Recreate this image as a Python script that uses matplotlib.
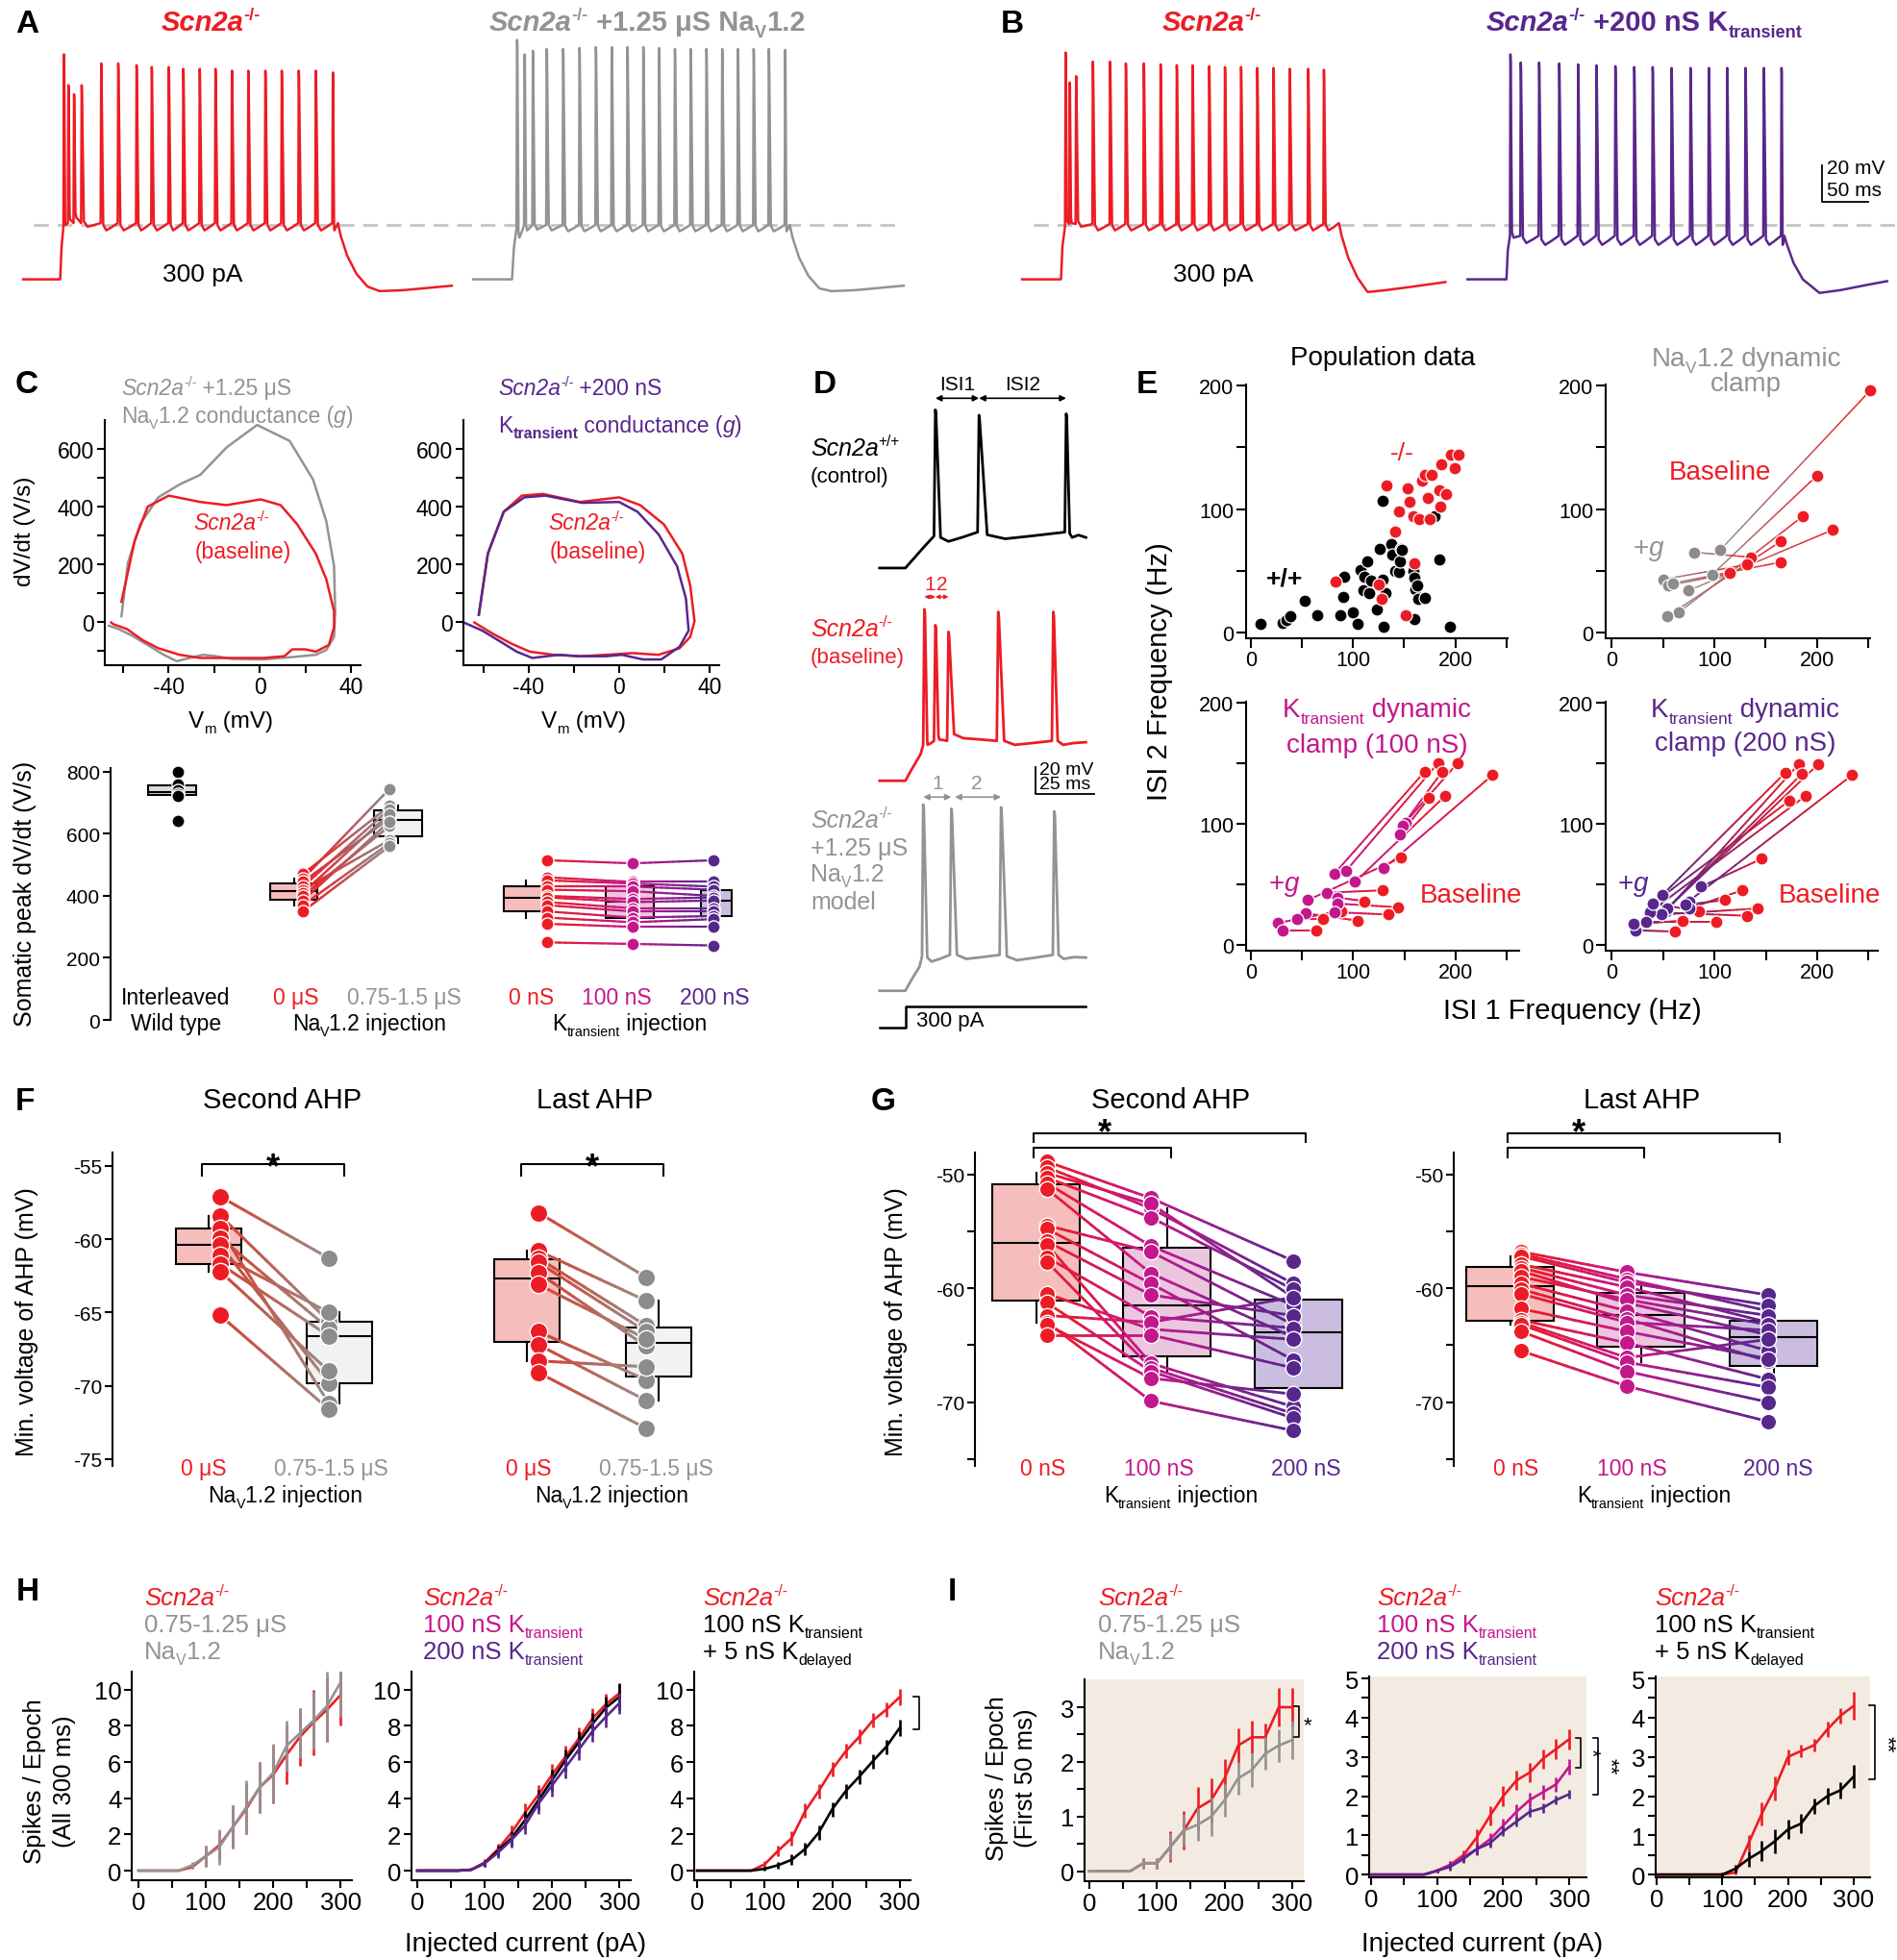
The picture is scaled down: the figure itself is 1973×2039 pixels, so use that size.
import numpy as np
import matplotlib
matplotlib.use("Agg")
import matplotlib.pyplot as plt
import matplotlib.transforms as mtrans
from matplotlib.collections import LineCollection
from matplotlib.colors import to_rgb
from matplotlib.lines import Line2D

# ======================= DATA =======================
# ---- A / B traces: spike times (ms after step onset), peaks (mV), AHP troughs (mV)
RA_t = [4.1, 8.9, 15.0, 23.2, 44.3, 62.7, 82.5, 98.9, 117.3, 133.0, 150.7, 167.7, 185.5, 203.2, 221.6, 239.3, 257.7, 276.1, 294.5]
RA_pk = [44, 27, 22, 27, 39, 39, 38, 37, 37, 36, 36, 36, 35, 35, 35, 35, 35, 35, 34]
RA_ahp = [-50, -47, -46, -51, -53, -53, -53, -53, -53, -53, -53, -53, -53, -53, -53, -53, -53, -53, -53]
RA_thr = -49
RA_rise_dt = [0, 1.5, 3.5]
RA_rise_v = [-80, -62, -51]
RA_tail_dt = [0, 3, 10, 20, 32, 45, 70, 123]
RA_tail_v = [-49, -56, -67, -77, -84, -86.5, -86, -83.5]

GA_t = [5.5, 13.6, 22.5, 37.5, 55.2, 72.9, 90.6, 107.7, 124.7, 141.8, 158.8, 175.9, 193, 210, 227, 244, 261, 277.4, 295]
GA_pk = [52, 44, 46, 47, 47, 47.5, 48, 48, 48, 48, 47.5, 47, 47, 47, 47, 47, 47, 47, 46.5]
GA_ahp = [-57, -53, -52.5, -53, -53.5, -53.5, -53.5, -53.5, -53.5, -53.5, -53.5, -53.5, -53.5, -53.5, -53.5, -53.5, -53.5, -53.5, -53.5]
GA_thr = -50
GA_rise_dt = [0, 2, 4.8]
GA_rise_v = [-80, -63, -52]
GA_tail_dt = [0, 3, 10, 20, 32, 45, 70, 123]
GA_tail_v = [-50, -57, -68, -78, -85, -86.5, -86, -83.5]

RB_t = [5, 9.4, 16.3, 34.4, 53, 70, 89.4, 107.5, 125, 142, 160, 177, 194.4, 211.9, 229.4, 246.9, 266.9, 283.8]
RB_pk = [45, 28.5, 32, 40, 40, 39, 39, 38.5, 38, 38, 37.5, 37, 37, 36.5, 36.5, 36, 36, 35.5]
RB_ahp = [-48, -49, -51, -53, -53, -53, -53, -53, -53, -53, -53, -53, -53, -53, -53, -53, -53, -53]
RB_thr = -49.5
RB_rise_dt = [0, 1.5, 4.3]
RB_rise_v = [-80, -62, -51]
RB_tail_dt = [0, 3, 10, 20, 31, 50, 80, 115]
RB_tail_v = [-49, -56, -68, -79, -87, -86, -84, -81.5]

PB_t = [4.3, 15.5, 35.3, 57, 77.4, 97.2, 117.6, 138, 157.9, 178.3, 198.7, 218.5, 238.3, 258.1, 277.9, 297]
PB_pk = [44, 39.5, 39.5, 39, 38.5, 38, 37.5, 37, 37, 36.5, 36.5, 36.5, 36.5, 36.5, 36.5, 36.5]
PB_ahp = [-57, -60, -61, -61, -61, -61, -61, -61, -61, -61, -61, -61, -61, -61, -61, -61]
PB_thr = -56
PB_rise_dt = [0, 1.5, 3.8]
PB_rise_v = [-80, -64, -56]
PB_tail_dt = [0, 3, 10, 20, 38, 60, 90, 111]
PB_tail_v = [-56, -61, -71, -80, -87.5, -86, -83, -81]

# ---- D traces
DK_t = [12.8, 31.4, 68.6]; DK_pk = [39, 35, 36]; DK_ahp = [-60, -58, -57]; DK_thr = -53
DK_rise_dt = [0, 4, 8, 12.2]; DK_rise_v = [-80, -72, -64, -56]
DR_t = [8.1, 12.8, 18.4, 39.6, 63.1]; DR_pk = [49, 37, 32, 47, 47]; DR_ahp = [-53, -49, -48, -53, -53]; DR_thr = -50
DR_rise_dt = [0, 2.5, 6.5, 7.6]; DR_rise_v = [-80, -72, -60, -53]
DG_t = [7.6, 19.6, 40.8, 63.5]; DG_pk = [60, 57, 58, 55]; DG_ahp = [-58, -56, -57, -56]; DG_thr = -53
DG_rise_dt = [0, 2.5, 6, 7.1]; DG_rise_v = [-80, -72, -62, -54]
D_end_v = [-57, -51, -55]

# ---- C phase plots (Vm in mV, dV/dt in V/s)
PHL_red_v = [-60.5, -54.7, -49, -39.8, -26, -14.5, 0.5, 9.2, 16.5, 24.6, 29.2, 32.6, 32.6, 30.3, 24.6, 20, 14.3, 10.8, 1.6, -12.2, -26, -35, -44.4, -51.3, -58, -64, -65]
PHL_red_d = [70, 282, 400, 438, 416, 405, 425, 405, 338, 237, 148, 37, -19, -80, -103, -95, -95, -119, -125, -125, -125, -114, -91, -63, -25, -8, -2]
PHL_gry_v = [-60.5, -57.7, -52.4, -44.4, -35, -26, -14.5, -1.1, 13.1, 23.4, 29.2, 32.6, 33.1, 32.6, 29.2, 24.6, 15.4, 1.6, -12.2, -19, -24.8, -30.6, -36.3, -42, -49, -56, -61.6, -66]
PHL_gry_d = [20, 204, 338, 432, 477, 510, 605, 683, 628, 494, 349, 193, 37, -52, -97, -114, -121, -130, -128, -119, -114, -125, -136, -114, -80, -47, -25, -13]
PHR_red_v = [-62, -58, -51, -43, -33.7, -17.4, 0, 9.3, 19.8, 27.9, 31.4, 33.3, 31.4, 26.7, 17.4, 5.8, -5.8, -17.4, -29, -39.5, -47.7, -55.8, -64]
PHR_red_d = [25, 237, 382, 438, 444, 416, 432, 405, 338, 237, 126, 3, -52, -91, -114, -108, -114, -119, -114, -103, -75, -41, -2]
PHR_pur_v = [-62, -58, -51, -41.9, -32.6, -16.3, 0, 8.1, 17.4, 25.6, 29.5, 30.7, 26.7, 18.6, 10.5, 1.2, -5.8, -17.4, -26.7, -38.4, -45.3, -52.3, -60.5, -68.6]
PHR_pur_d = [25, 237, 382, 432, 438, 413, 416, 382, 304, 193, 81, -30, -86, -130, -130, -114, -119, -119, -114, -125, -103, -69, -30, -2]

# ---- C bottom: somatic peak dV/dt (V/s)
CB_wt = [800, 760, 741, 730, 723, 642]
CB_na0 = [470, 455, 445, 430, 420, 410, 400, 385, 370, 350]
CB_na1 = [690, 745, 650, 680, 580, 665, 625, 640, 570, 560]
CB_k0 = [515, 460, 450, 430, 420, 400, 395, 380, 370, 350, 330, 310, 250]
CB_k100 = [505, 445, 440, 430, 415, 390, 380, 360, 350, 330, 315, 300, 245]
CB_k200 = [515, 445, 430, 420, 400, 395, 385, 360, 350, 335, 325, 300, 240]

# ---- E: ISI1 / ISI2 frequency (Hz)
E1_wt_x = [10, 31, 35, 39, 53, 65, 88, 91, 90, 100, 104, 107, 111, 114, 110, 116, 118, 123, 126, 129, 129, 130, 132, 137, 138, 141, 145, 147, 146, 159, 160, 161, 163, 164, 170, 180, 184, 195, 160, 148]
E1_wt_y = [7, 8, 10, 13, 26, 14, 14, 45, 29, 16, 7, 51, 45, 58, 34, 32, 42, 19, 68, 107, 43, 5, 32, 72, 63, 50, 49, 68, 58, 50, 44, 35, 38, 27, 28, 94, 59, 5, 11, 67]
E1_ko_x = [83, 125, 128, 133, 141, 145, 151, 153, 155, 159, 160, 165, 167, 170, 173, 175, 177, 184, 185, 186, 191, 196, 199, 203]
E1_ko_y = [41, 39, 27, 119, 82, 98, 14, 117, 106, 94, 56, 92, 123, 128, 109, 92, 128, 115, 102, 136, 112, 144, 133, 144]
E2_g_x = [106, 98, 75, 65, 54, 80, 50, 55, 60]
E2_g_y = [67, 47, 34, 16, 13, 65, 43, 38, 40]
E2_b_x = [252, 200, 215, 186, 165, 136, 132, 115, 165]
E2_b_y = [196, 127, 83, 94, 74, 61, 55, 48, 57]
E3_g_x = [82, 93, 151, 148, 102, 130, 146, 56, 74, 85, 85, 82, 54, 45, 26, 31]
E3_g_y = [59, 61, 101, 98, 52, 63, 91, 37, 43, 39, 34, 27, 26, 21, 18, 12]
E3_b_x = [170, 183, 202, 187, 190, 236, 174, 147, 129, 111, 144, 134, 104, 71, 88, 64]
E3_b_y = [143, 150, 150, 143, 123, 140, 121, 72, 45, 36, 31, 25, 20, 21, 28, 12]
E4_g_x = [49, 53, 54, 48, 40, 37, 75, 87, 75, 72, 48, 37, 33, 23, 21, 40]
E4_g_y = [41, 28, 30, 25, 34, 27, 36, 48, 30, 33, 25, 27, 19, 12, 17, 34]
E4_b_x = [169, 182, 185, 201, 173, 189, 234, 146, 127, 110, 142, 132, 102, 61, 69, 85]
E4_b_y = [142, 149, 141, 149, 119, 123, 140, 71, 45, 37, 30, 24, 19, 11, 20, 28]

# ---- F: min AHP voltage (mV), paired 0 uS -> 0.75-1.5 uS
F2_0 = [-57.1, -58.4, -59.3, -59.9, -60.4, -61.1, -61.7, -62.2, -65.2]
F2_1 = [-61.3, -65.6, -71.2, -66.1, -69.8, -65.0, -66.6, -69.0, -71.6]
FL_0 = [-58.2, -60.8, -61.3, -61.6, -62.3, -63.1, -66.3, -67.2, -68.3, -69.1]
FL_1 = [-62.6, -64.2, -65.9, -66.3, -67.3, -66.8, -69.6, -71.0, -68.7, -72.9]

# ---- G: min AHP voltage (mV), 0 -> 100 -> 200 nS
G2_0 = [-48.9, -49.4, -49.9, -50.3, -50.8, -51.3, -54.5, -54.8, -55.9, -56.2, -57.3, -57.7, -60.5, -61.3, -62.4, -63.0, -63.2, -64.1]
G2_1 = [-52.1, -53.0, -52.6, -53.8, -56.3, -58.7, -56.8, -59.6, -60.6, -66.6, -62.5, -67.0, -63.6, -67.3, -63.0, -69.9, -67.9, -64.1]
G2_2 = [-57.6, -59.6, -60.8, -60.1, -61.5, -64.3, -63.2, -66.3, -62.4, -70.4, -63.5, -71.0, -64.5, -71.4, -60.8, -72.5, -69.3, -67.0]
GL_0 = [-56.8, -57.0, -57.2, -57.9, -58.2, -58.5, -59.0, -59.6, -60.1, -60.5, -61.8, -62.8, -63.0, -63.2, -63.8, -65.5]
GL_1 = [-58.6, -59.2, -59.5, -59.9, -60.6, -61.3, -61.0, -62.0, -62.7, -63.0, -63.8, -64.8, -66.1, -66.5, -67.3, -68.6]
GL_2 = [-60.6, -62.0, -61.5, -63.0, -62.4, -64.1, -63.2, -65.5, -66.4, -63.7, -66.2, -68.0, -64.5, -68.7, -70.0, -71.7]

# ---- H / I: spikes per epoch vs injected current (pA)
CUR = [0, 20, 40, 60, 80, 100, 120, 140, 160, 180, 200, 220, 240, 260, 280, 300]
H1_red = [0, 0, 0, 0, 0.2, 0.8, 1.4, 2.4, 3.4, 4.6, 5.3, 6.4, 7.4, 8.2, 8.9, 9.7]
H1_red_e = [0, 0, 0, 0, 0.1, 0.6, 0.8, 1.2, 1.4, 1.4, 1.6, 1.6, 1.6, 1.8, 1.8, 1.7]
H1_gry = [0, 0, 0, 0, 0.3, 0.8, 1.3, 2.4, 3.5, 4.6, 5.4, 6.9, 7.6, 8.3, 9.1, 10.4]
H1_gry_e = [0, 0, 0, 0, 0.2, 0.6, 1.0, 1.2, 1.5, 1.4, 1.6, 1.4, 1.4, 1.6, 1.9, 1.9]
H2_red = [0, 0, 0, 0, 0.05, 0.45, 1.2, 2.1, 3.2, 4.2, 5.3, 6.3, 7.3, 8.4, 9.2, 9.8]
H2_red_e = [0, 0, 0, 0, 0, 0.2, 0.3, 0.4, 0.5, 0.55, 0.6, 0.6, 0.6, 0.6, 0.6, 0.5]
H2_blk = [0, 0, 0, 0, 0.05, 0.4, 1.1, 1.8, 2.8, 3.9, 5.0, 6.1, 7.1, 8.1, 9.0, 9.6]
H2_blk_e = [0, 0, 0, 0, 0, 0.2, 0.3, 0.4, 0.5, 0.55, 0.6, 0.6, 0.6, 0.6, 0.6, 0.75]
H2_pur = [0, 0, 0, 0, 0.05, 0.4, 1.0, 1.7, 2.5, 3.7, 4.7, 5.7, 6.7, 7.7, 8.5, 9.25]
H2_pur_e = [0, 0, 0, 0, 0, 0.2, 0.3, 0.4, 0.5, 0.55, 0.6, 0.6, 0.6, 0.6, 0.6, 0.6]
H3_red = [0, 0, 0, 0, 0, 0.35, 1.1, 1.8, 3.3, 4.4, 5.6, 6.6, 7.4, 8.3, 8.9, 9.6]
H3_red_e = [0, 0, 0, 0, 0, 0.2, 0.3, 0.4, 0.4, 0.4, 0.4, 0.4, 0.4, 0.4, 0.4, 0.45]
H3_blk = [0, 0, 0, 0, 0, 0.1, 0.3, 0.6, 1.2, 2.1, 3.4, 4.4, 5.2, 6.05, 6.85, 7.9]
H3_blk_e = [0, 0, 0, 0, 0, 0.1, 0.2, 0.3, 0.35, 0.4, 0.4, 0.4, 0.4, 0.4, 0.4, 0.45]
I1_red = [0, 0, 0, 0, 0.15, 0.15, 0.45, 0.75, 1.15, 1.3, 1.7, 2.3, 2.45, 2.45, 3.0, 3.0]
I1_red_e = [0, 0, 0, 0, 0.1, 0.1, 0.28, 0.35, 0.4, 0.4, 0.35, 0.32, 0.3, 0.25, 0.35, 0.35]
I1_gry = [0, 0, 0, 0, 0.15, 0.15, 0.45, 0.75, 0.85, 1.0, 1.3, 1.7, 1.85, 2.15, 2.3, 2.4]
I1_gry_e = [0, 0, 0, 0, 0.1, 0.1, 0.25, 0.3, 0.3, 0.35, 0.3, 0.3, 0.3, 0.3, 0.3, 0.35]
I2_red = [0, 0, 0, 0, 0, 0.1, 0.25, 0.5, 0.95, 1.5, 2.0, 2.4, 2.6, 2.95, 3.2, 3.45]
I2_red_e = [0, 0, 0, 0, 0, 0.05, 0.1, 0.12, 0.2, 0.25, 0.25, 0.25, 0.25, 0.25, 0.25, 0.25]
I2_mag = [0, 0, 0, 0, 0, 0.1, 0.25, 0.45, 0.65, 0.9, 1.25, 1.6, 1.9, 2.1, 2.3, 2.75]
I2_mag_e = [0, 0, 0, 0, 0, 0.05, 0.1, 0.12, 0.15, 0.15, 0.18, 0.18, 0.18, 0.18, 0.18, 0.2]
I2_pur = [0, 0, 0, 0, 0, 0.1, 0.2, 0.4, 0.65, 0.8, 1.1, 1.35, 1.6, 1.7, 1.9, 2.05]
I2_pur_e = [0, 0, 0, 0, 0, 0.05, 0.1, 0.1, 0.12, 0.12, 0.12, 0.12, 0.12, 0.12, 0.12, 0.12]
I3_red = [0, 0, 0, 0, 0, 0, 0.05, 0.8, 1.55, 2.2, 3.0, 3.15, 3.3, 3.7, 4.05, 4.3]
I3_red_e = [0, 0, 0, 0, 0, 0, 0.05, 0.2, 0.3, 0.3, 0.2, 0.15, 0.15, 0.2, 0.2, 0.35]
I3_blk = [0, 0, 0, 0, 0, 0, 0.15, 0.4, 0.6, 0.85, 1.15, 1.3, 1.75, 2.0, 2.15, 2.5]
I3_blk_e = [0, 0, 0, 0, 0, 0.05, 0.1, 0.2, 0.25, 0.3, 0.25, 0.25, 0.2, 0.2, 0.2, 0.3]

# ======================= STYLE =======================
W, H, DPI = 1974, 2040, 100
REG = ['Liberation Sans', 'DejaVu Sans']
NAR = ['Liberation Sans Narrow', 'Liberation Sans', 'DejaVu Sans']
plt.rcParams['font.family'] = REG
plt.rcParams['axes.unicode_minus'] = False
plt.rcParams['mathtext.fontset'] = 'custom'
plt.rcParams['mathtext.rm'] = 'Liberation Sans'
plt.rcParams['mathtext.it'] = 'Liberation Sans:italic'
plt.rcParams['mathtext.bf'] = 'Liberation Sans:bold'

RED = '#ed1c24'; GRAY = '#939393'; DOTG = '#8c8c8c'; PUR = '#58278c'; MAG = '#c2188c'; BLK = '#000000'
LW = 1.5

fig = plt.figure(figsize=(W / DPI, H / DPI), dpi=DPI)
fig.patch.set_facecolor('white')
IDT = mtrans.IdentityTransform()
REN = fig.canvas.get_renderer()
_wc = {}


def twidth(s, props):
    key = (s, tuple(sorted((k, str(v)) for k, v in props.items())))
    if key in _wc:
        return _wc[key]
    t = fig.text(0, 0, '|' + s + '|', transform=IDT, **props)
    w1 = t.get_window_extent(REN).width
    t.remove()
    t = fig.text(0, 0, '||', transform=IDT, **props)
    w0 = t.get_window_extent(REN).width
    t.remove()
    _wc[key] = w1 - w0
    return w1 - w0


def rich(x, y, pieces, size=16, color='k', ha='left', family=REG, weight='normal', style='normal', ssz=0.62):
    if isinstance(pieces, str):
        pieces = [pieces]
    spx = size * DPI / 72.
    base = H - (y + 0.36 * spx)
    items = []
    for p in pieces:
        if isinstance(p, str):
            p = (p, 'n')
        txt, kind = p[0], p[1]
        ov = p[2] if len(p) > 2 else {}
        fs = size * (ssz if kind != 'n' else 1.0)
        dy = {'n': 0.0, '^': 0.40 * spx, '_': -0.24 * spx}[kind]
        props = dict(fontsize=fs, color=ov.get('c', color), family=ov.get('f', family),
                     weight=ov.get('w', weight), style=ov.get('s', style))
        items.append((txt, props, dy, twidth(txt, props)))
    tot = sum(it[3] for it in items)
    x0 = x - {'left': 0, 'center': tot / 2., 'right': tot}[ha]
    for txt, props, dy, w in items:
        fig.text(x0, base + dy, txt, transform=IDT, ha='left', va='baseline', **props)
        x0 += w


def vtext(x, y, s, size, family=REG, color='k', rot=90, weight='normal'):
    fig.text(x, H - y, s, transform=IDT, rotation=rot, ha='center', va='center',
             fontsize=size, family=family, color=color, weight=weight)


def pline(xs, ys, **kw):
    kw.setdefault('color', 'k'); kw.setdefault('lw', LW)
    fig.add_artist(Line2D(xs, [H - v for v in ys], transform=IDT, **kw))


def axpx(x0, y0, x1, y1):
    ax = fig.add_axes([x0 / W, 1 - y1 / H, (x1 - x0) / W, (y1 - y0) / H])
    ax.patch.set_alpha(0)
    return ax


def style(ax, left=True, bottom=True, lsize=16, fam=NAR, length=6):
    for s in ['top', 'right']:
        ax.spines[s].set_visible(False)
    ax.spines['left'].set_visible(left)
    ax.spines['bottom'].set_visible(bottom)
    for s in ['left', 'bottom']:
        ax.spines[s].set_linewidth(LW)
    ax.tick_params(which='both', width=LW, length=length, direction='out', labelsize=lsize,
                   labelfontfamily=fam, pad=2)
    if not left:
        ax.tick_params(axis='y', which='both', left=False, labelleft=False)
    if not bottom:
        ax.tick_params(axis='x', which='both', bottom=False, labelbottom=False)


def scn(sup='-/-', **ov):
    d = dict(ov); d['s'] = 'italic'
    return [('Scn2a', 'n', d), (sup, '^', dict(ov))]


def grad_line(ax, x0, y0, x1, y1, c0, c1, lw=1.8, n=14, z=2):
    xs = np.linspace(x0, x1, n + 1); ys = np.linspace(y0, y1, n + 1)
    segs = [[(xs[i], ys[i]), (xs[i + 1], ys[i + 1])] for i in range(n)]
    a = np.array(to_rgb(c0)); b = np.array(to_rgb(c1))
    cols = [tuple(a + (b - a) * (i + 0.5) / n) for i in range(n)]
    ax.add_collection(LineCollection(segs, colors=cols, linewidths=lw, zorder=z, capstyle='round'))


def trace_xy(t_on, pre, rise_dt, rise_v, spk_t, spk_pk, spk_ahp, thr, tail_dt, tail_v, dur=300.0):
    ts = [t_on - pre]; vs = [rise_v[0]]
    for dt, v in zip(rise_dt, rise_v):
        ts.append(t_on + dt); vs.append(v)
    n = len(spk_t)
    for i in range(n):
        tt = t_on + spk_t[i]
        gap = (spk_t[i + 1] - spk_t[i]) if i + 1 < n else max(dur - spk_t[i], 4.0)
        if i > 0:
            ts.append(tt - 0.6); vs.append(thr)
        ahp = spk_ahp[i]
        ts += [tt, tt + 0.25, tt + 0.07 * gap + 0.9, tt + 0.3 * gap, tt + 0.62 * gap]
        vs += [spk_pk[i], spk_pk[i] - 3, ahp + 3, ahp, ahp + 0.45 * (thr - ahp)]
    for dt, v in zip(tail_dt, tail_v):
        ts.append(t_on + dur + dt); vs.append(v)
    return ts, vs


def box(ax, data, pos, width, face, z=1):
    ax.boxplot([data], positions=[pos], widths=width, whis=(10, 90), showfliers=False, showcaps=False,
               patch_artist=True, manage_ticks=False, zorder=z,
               boxprops=dict(facecolor=face, edgecolor='k', linewidth=LW),
               medianprops=dict(color='k', linewidth=LW),
               whiskerprops=dict(color='k', linewidth=LW))


def dots(ax, x, ys, color, s=80, z=5):
    ax.scatter([x] * len(ys), ys, s=s, color=color, edgecolors='white', linewidths=1.0, zorder=z, clip_on=False)


# ======================= PANEL A / B =======================
TLW = 1.8
axA = axpx(0, 32.5, 963, 345)
axA.set_xlim(0, 1000); axA.set_ylim(-108.3, 57.3); axA.axis('off')
axA.plot([36.5, 975], [-50, -50], color='#c8c8c8', lw=2.2, ls=(0, (5, 3)), zorder=0)
t, v = trace_xy(65, 40, RA_rise_dt, RA_rise_v, RA_t, RA_pk, RA_ahp, RA_thr, RA_tail_dt, RA_tail_v)
axA.plot(t, v, color=RED, lw=TLW, solid_joinstyle='round')
t, v = trace_xy(553, 42, GA_rise_dt, GA_rise_v, GA_t, GA_pk, GA_ahp, GA_thr, GA_tail_dt, GA_tail_v)
axA.plot(t, v, color=GRAY, lw=TLW, solid_joinstyle='round')

axB = axpx(1028, 32.5, 1974, 345)
axB.set_xlim(0, 982); axB.set_ylim(-108.3, 57.3); axB.axis('off')
axB.plot([48.6, 982], [-50, -50], color='#c8c8c8', lw=2.2, ls=(0, (5, 3)), zorder=0)
t, v = trace_xy(78.4, 42, RB_rise_dt, RB_rise_v, RB_t, RB_pk, RB_ahp, RB_thr, RB_tail_dt, RB_tail_v)
axB.plot(t, v, color=RED, lw=TLW, solid_joinstyle='round')
t, v = trace_xy(559.3, 42, PB_rise_dt, PB_rise_v, PB_t, PB_pk, PB_ahp, PB_thr, PB_tail_dt, PB_tail_v)
axB.plot(t, v, color=PUR, lw=TLW, solid_joinstyle='round')
axB.plot([900, 900, 950], [-17.3, -37.3, -37.3], color='k', lw=1.3)
axB.text(905, -18.5, '20 mV', fontsize=15, family=NAR, va='center')
axB.text(905, -30.5, '50 ms', fontsize=15, family=NAR, va='center')

rich(16, 22, 'A', 24, weight='bold')
rich(1041, 22, 'B', 24, weight='bold')
rich(219, 22, scn(), 21, RED, 'center', NAR, 'bold')
rich(673, 22, scn() + [' +1.25 μS Na', ('V', '_'), '1.2'], 21, GRAY, 'center', NAR, 'bold')
rich(1260, 22, scn(), 21, RED, 'center', NAR, 'bold')
rich(1710, 22, scn() + [' +200 nS K', ('transient', '_')], 21, PUR, 'center', NAR, 'bold')
rich(211, 284, '300 pA', 19, 'k', 'center', NAR)
rich(1262, 284, '300 pA', 19, 'k', 'center', NAR)

# ======================= PANEL C =======================
for (x0, x1, xl, curves) in [(109, 375, (-67.8, 44.2), [(PHL_gry_v, PHL_gry_d, GRAY), (PHL_red_v, PHL_red_d, RED)]),
                             (482, 748, (-68.8, 44.2), [(PHR_red_v, PHR_red_d, RED), (PHR_pur_v, PHR_pur_d, PUR)])]:
    ax = axpx(x0, 438, x1, 693)
    style(ax, lsize=16.5)
    ax.set_xlim(*xl); ax.set_ylim(-150, 700)
    ax.set_xticks([-40, 0, 40]); ax.set_xticks([-60, -20, 20], minor=True)
    ax.set_yticks([0, 200, 400, 600]); ax.set_yticks([-100, 100, 300, 500], minor=True)
    for vv, dd, cc in curves:
        ax.plot(vv, dd, color=cc, lw=1.8)

rich(16, 397, 'C', 24, weight='bold')
rich(126, 403, scn() + [' +1.25 μS'], 16.5, GRAY, 'left', NAR)
rich(126, 432, ['Na', ('V', '_'), '1.2 conductance (', ('g', 'n', {'s': 'italic'}), ')'], 16.5, GRAY, 'left', NAR)
rich(518, 403, scn() + [' +200 nS'], 16.5, PUR, 'left', NAR)
rich(518, 442, ['K', ('transient', '_', {'w': 'bold'}), ' conductance (', ('g', 'n', {'s': 'italic'}), ')'], 16.5, PUR, 'left', NAR, ssz=0.7)
for cx in (241, 610):
    rich(cx, 543, scn(), 16.5, RED, 'center', NAR)
    rich(cx + 12, 573, '(baseline)', 16.5, RED, 'center', NAR)
vtext(26, 553, 'dV/dt (V/s)', 17.5)
rich(240, 748, ['V', ('m', '_'), ' (mV)'], 17.5, 'k', 'center')
rich(607, 748, ['V', ('m', '_'), ' (mV)'], 17.5, 'k', 'center')

axC2 = axpx(115, 794, 790, 1062)
style(axC2, bottom=False, lsize=15)
axC2.set_xlim(0, 675); axC2.set_ylim(0, 831)
axC2.spines['left'].set_bounds(0, 812)
axC2.set_yticks([0, 200, 400, 600, 800])
CS = 90
box(axC2, CB_wt, 64, 50, '#dcdcdc')
dots(axC2, 70, CB_wt, 'k', s=CS)
box(axC2, CB_na0, 191, 49, '#f6bdbd')
box(axC2, CB_na1, 299, 50, '#f2f2f2')
for a, b in zip(CB_na0, CB_na1):
    grad_line(axC2, 200, a, 290, b, RED, DOTG, lw=1.8)
dots(axC2, 200, CB_na0, RED, s=CS)
dots(axC2, 290, CB_na1, DOTG, s=CS)
box(axC2, CB_k0, 432, 45, '#f6bdbd')
box(axC2, CB_k100, 540, 50, '#ebc6de')
box(axC2, CB_k200, 630, 32, '#cbbde0')
for a, b, c in zip(CB_k0, CB_k100, CB_k200):
    grad_line(axC2, 454, a, 543, b, RED, MAG, lw=1.6)
    grad_line(axC2, 543, b, 627, c, MAG, PUR, lw=1.6)
dots(axC2, 454, CB_k0, RED, s=CS)
dots(axC2, 543, CB_k100, MAG, s=CS)
dots(axC2, 627, CB_k200, PUR, s=CS)
vtext(26, 930, 'Somatic peak dV/dt (V/s)', 18)
rich(183, 1037, 'Interleaved', 16.5, 'k', 'center', NAR)
rich(183, 1064, 'Wild type', 16.5, 'k', 'center', NAR)
rich(308, 1037, '0 μS', 16.5, RED, 'center', NAR)
rich(420, 1037, '0.75-1.5 μS', 16.5, GRAY, 'center', NAR)
rich(384, 1064, ['Na', ('V', '_'), '1.2 injection'], 16.5, 'k', 'center', NAR)
rich(553, 1037, '0 nS', 16.5, RED, 'center', NAR)
rich(641, 1037, '100 nS', 16.5, MAG, 'center', NAR)
rich(743, 1037, '200 nS', 16.5, PUR, 'center', NAR)
rich(655, 1064, ['K', ('transient', '_'), ' injection'], 16.5, 'k', 'center', NAR)

# ======================= PANEL D =======================
axD = axpx(839, 390, 1145, 1080)
axD.set_xlim(-42.1, 83.4); axD.set_ylim(-432.9, 66); axD.axis('off')
D_off = [0, -160, -318]
for (st, pk, ah, th, rdt, rv, ev, off, col) in [
        (DK_t, DK_pk, DK_ahp, DK_thr, DK_rise_dt, DK_rise_v, D_end_v[0], D_off[0], BLK),
        (DR_t, DR_pk, DR_ahp, DR_thr, DR_rise_dt, DR_rise_v, D_end_v[1], D_off[1], RED),
        (DG_t, DG_pk, DG_ahp, DG_thr, DG_rise_dt, DG_rise_v, D_end_v[2], D_off[2], GRAY)]:
    t, v = trace_xy(0, 11, rdt, rv, st, pk, ah, th, [0], [ev], dur=77)
    axD.plot(t, np.array(v) + off, color=col, lw=2.0, solid_joinstyle='round')
akw = dict(arrowstyle='<|-|>', mutation_scale=9, lw=1.2, shrinkA=0, shrinkB=0)
axD.annotate('', xy=(DK_t[0], 47.7), xytext=(DK_t[1], 47.7), arrowprops=dict(color='k', **akw))
axD.annotate('', xy=(DK_t[1], 47.7), xytext=(DK_t[2], 47.7), arrowprops=dict(color='k', **akw))
axD.text((DK_t[0] + DK_t[1]) / 2, 58.3, 'ISI1', ha='center', va='center', fontsize=15)
axD.text((DK_t[1] + DK_t[2]) / 2, 58.3, 'ISI2', ha='center', va='center', fontsize=15)
akw2 = dict(arrowstyle='<|-|>', mutation_scale=6, lw=1.0, shrinkA=0, shrinkB=0)
axD.annotate('', xy=(DR_t[0], -101.7), xytext=(DR_t[1], -101.7), arrowprops=dict(color=RED, **akw2))
axD.annotate('', xy=(DR_t[1], -101.7), xytext=(DR_t[2], -101.7), arrowprops=dict(color=RED, **akw2))
axD.text(DR_t[0] + 2.2, -92.3, '1', ha='center', va='center', fontsize=15, color=RED)
axD.text(DR_t[1] + 2.8, -92.3, '2', ha='center', va='center', fontsize=15, color=RED)
axD.annotate('', xy=(DG_t[0], -252.3), xytext=(DG_t[1], -252.3), arrowprops=dict(color=GRAY, **akw))
axD.annotate('', xy=(DG_t[1] + 1.5, -252.3), xytext=(DG_t[2], -252.3), arrowprops=dict(color=GRAY, **akw))
axD.text((DG_t[0] + DG_t[1]) / 2, -242, '1', ha='center', va='center', fontsize=15, color=GRAY)
axD.text((DG_t[1] + DG_t[2]) / 2, -242, '2', ha='center', va='center', fontsize=15, color=GRAY)
axD.plot([55.7, 55.7, 80.7], [-230, -250, -250], color='k', lw=1.3)
axD.text(57, -231.5, '20 mV', fontsize=14, va='center')
axD.text(57, -242.5, '25 ms', fontsize=14, va='center')
axD.plot([-11, 0, 0, 77], [-426, -426, -409.7, -409.7], color='k', lw=1.8)
axD.text(4.7, -420, '300 pA', fontsize=16, va='center')
rich(846, 397, 'D', 24, weight='bold')
rich(843, 465, scn('+/+'), 18, 'k')
rich(843, 494, '(control)', 16, 'k')
rich(843, 653, scn(), 18, RED)
rich(843, 682, '(baseline)', 16, RED)
rich(843, 852, scn(), 18, GRAY)
rich(843, 881, '+1.25 μS', 18, GRAY)
rich(843, 908, ['Na', ('V', '_'), '1.2'], 18, GRAY)
rich(843, 937, 'model', 18, GRAY)

# ======================= PANEL E =======================
def e_axes(x0, y0, x1, y1, xl, yl):
    ax = axpx(x0, y0, x1, y1)
    style(ax, lsize=15.5, fam=REG, length=7)
    ax.set_xlim(*xl); ax.set_ylim(*yl)
    ax.set_xticks([0, 100, 200]); ax.set_xticks([50, 150, 250], minor=True)
    ax.set_yticks([0, 100, 200]); ax.set_yticks([50, 150], minor=True)
    return ax

eS = 88
axE1 = e_axes(1296, 401, 1568, 665, (-4.5, 251), (-4.7, 201))
axE1.scatter(E1_wt_x, E1_wt_y, s=eS, color='k', edgecolors='white', linewidths=0.9, zorder=3)
axE1.scatter(E1_ko_x, E1_ko_y, s=eS, color=RED, edgecolors='white', linewidths=0.9, zorder=4)
axE1.text(148, 146, '-/-', color=RED, fontsize=19, ha='center', va='center')
axE1.text(33, 44, '+/+', color='k', fontsize=19, ha='center', va='center', weight='bold')

axE2 = e_axes(1670, 401, 1945, 665, (-6, 252), (-4.7, 201))
for gx, gy, bx, by in zip(E2_g_x, E2_g_y, E2_b_x, E2_b_y):
    grad_line(axE2, bx, by, gx, gy, RED, GRAY, lw=1.1)
axE2.scatter(E2_g_x, E2_g_y, s=eS, color=DOTG, edgecolors='white', linewidths=0.9, zorder=4)
axE2.scatter(E2_b_x, E2_b_y, s=eS, color=RED, edgecolors='white', linewidths=0.9, zorder=4, clip_on=False)
axE2.text(106, 130, 'Baseline', color=RED, fontsize=20, ha='center', va='center')
axE2.text(36, 67, r'+$\it{g}$', color=GRAY, fontsize=20, ha='center', va='center')

axE3 = e_axes(1296, 731, 1580, 990, (-4.5, 262), (-4.8, 200.5))
for gx, gy, bx, by in zip(E3_g_x, E3_g_y, E3_b_x, E3_b_y):
    grad_line(axE3, bx, by, gx, gy, RED, MAG, lw=1.4)
axE3.scatter(E3_b_x, E3_b_y, s=eS, color=RED, edgecolors='white', linewidths=0.9, zorder=4)
axE3.scatter(E3_g_x, E3_g_y, s=eS, color=MAG, edgecolors='white', linewidths=0.9, zorder=4)
axE3.text(33, 49, r'+$\it{g}$', color=MAG, fontsize=20, ha='center', va='center')
axE3.text(215, 41, 'Baseline', color=RED, fontsize=20, ha='center', va='center')

axE4 = e_axes(1670, 731, 1953, 990, (-6, 259), (-4.8, 200.5))
for gx, gy, bx, by in zip(E4_g_x, E4_g_y, E4_b_x, E4_b_y):
    grad_line(axE4, bx, by, gx, gy, RED, PUR, lw=1.4)
axE4.scatter(E4_b_x, E4_b_y, s=eS, color=RED, edgecolors='white', linewidths=0.9, zorder=4)
axE4.scatter(E4_g_x, E4_g_y, s=eS, color=PUR, edgecolors='white', linewidths=0.9, zorder=4)
axE4.text(21, 49, r'+$\it{g}$', color=PUR, fontsize=20, ha='center', va='center')
axE4.text(212, 41, 'Baseline', color=RED, fontsize=20, ha='center', va='center')

rich(1182, 397, 'E', 24, weight='bold')
rich(1438, 370, 'Population data', 20, 'k', 'center')
rich(1816, 371, ['Na', ('V', '_'), '1.2 dynamic'], 20, GRAY, 'center')
rich(1816, 397, 'clamp', 20, GRAY, 'center')
rich(1432, 736, ['K', ('transient', '_'), ' dynamic'], 20, MAG, 'center')
rich(1432, 773, 'clamp (100 nS)', 20, MAG, 'center')
rich(1815, 736, ['K', ('transient', '_'), ' dynamic'], 20, PUR, 'center')
rich(1815, 771, 'clamp (200 nS)', 20, PUR, 'center')
vtext(1206, 699, 'ISI 2 Frequency (Hz)', 21)
rich(1635, 1050, 'ISI 1 Frequency (Hz)', 21, 'k', 'center')

# ======================= PANEL F =======================
axF = axpx(117, 1200, 780, 1526)
style(axF, bottom=False, lsize=15)
axF.set_xlim(0, 663); axF.set_ylim(-75.46, -54.1)
axF.set_yticks([-75, -70, -65, -60, -55])
FW = 68
for (d0, d1, bx0, dx0, bx1, dx1) in [(F2_0, F2_1, 100, 112, 236.5, 225), (FL_0, FL_1, 431.5, 443, 568, 555)]:
    box(axF, d0, bx0, FW, '#f6bdbd')
    box(axF, d1, bx1, FW, '#f2f2f2')
    for a, b in zip(d0, d1):
        grad_line(axF, dx0, a, dx1, b, '#d5402e', '#9a8c86', lw=2.2)
    dots(axF, dx0, d0, RED, s=175)
    dots(axF, dx1, d1, DOTG, s=175)

rich(16, 1143, 'F', 24, weight='bold')
rich(294, 1143, 'Second AHP', 21, 'k', 'center', NAR)
rich(619, 1143, 'Last AHP', 21, 'k', 'center', NAR)
for cx0, cx1, cm in [(212, 344, 297), (550, 682, 636)]:
    rich(cx0, 1527, '0 μS', 16.5, RED, 'center', NAR)
    rich(cx1, 1527, '0.75-1.5 μS', 16.5, GRAY, 'center', NAR)
    rich(cm, 1555, ['Na', ('V', '_'), '1.2 injection'], 16.5, 'k', 'center', NAR)
for xa, xb in [(210, 358), (542, 690)]:
    pline([xa, xa, xb, xb], [1224, 1212, 1212, 1224])
    rich((xa + xb) / 2., 1212, '*', 26, 'k', 'center', weight='bold')
vtext(28, 1375, 'Min. voltage of AHP (mV)', 18)

# ======================= PANEL G =======================
for (x0, x1, xr, d0, d1, d2, pos) in [
        (1014, 1420, 406, G2_0, G2_1, G2_2, (63.5, 75, 199.5, 183, 337, 331)),
        (1512, 1974, 462, GL_0, GL_1, GL_2, (59, 70, 195, 180, 333, 327))]:
    ax = axpx(x0, 1200, x1, 1526)
    style(ax, bottom=False, lsize=15)
    ax.set_xlim(0, xr); ax.set_ylim(-75.6, -48.1)
    ax.set_yticks([-70, -60, -50]); ax.set_yticks([-75, -65, -55], minor=True)
    b0, p0, b1, p1, b2, p2 = pos
    box(ax, d0, b0, 91, '#f6bdbd')
    box(ax, d1, b1, 91, '#ebc6de')
    box(ax, d2, b2, 91, '#cbbde0')
    for a, b, c in zip(d0, d1, d2):
        grad_line(ax, p0, a, p1, b, RED, MAG, lw=2.0)
        grad_line(ax, p1, b, p2, c, MAG, PUR, lw=2.0)
    dots(ax, p0, d0, RED, s=140)
    dots(ax, p1, d1, MAG, s=140)
    dots(ax, p2, d2, PUR, s=140)

rich(906, 1143, 'G', 24, weight='bold')
rich(1218, 1143, 'Second AHP', 21, 'k', 'center', NAR)
rich(1708, 1143, 'Last AHP', 21, 'k', 'center', NAR)
for (x0, x1, x2, xm) in [(1085, 1205, 1358, 1228), (1577, 1697, 1849, 1720)]:
    rich(x0, 1527, '0 nS', 16.5, RED, 'center', NAR)
    rich(x1, 1527, '100 nS', 16.5, MAG, 'center', NAR)
    rich(x2, 1527, '200 nS', 16.5, PUR, 'center', NAR)
    rich(xm, 1555, ['K', ('transient', '_'), ' injection'], 16.5, 'k', 'center', NAR)
for xa, xm, xb in [(1075, 1218, 1358), (1568, 1710, 1851)]:
    pline([xa, xa, xb, xb], [1189, 1180, 1180, 1189])
    pline([xa, xa, xm, xm], [1205, 1195, 1195, 1205])
    rich(xa + 74, 1176, '*', 26, 'k', 'center', weight='bold')
vtext(932, 1375, 'Min. voltage of AHP (mV)', 18)

# ======================= PANEL H =======================
def curve(ax, y, e, col, z):
    y = np.array(y); e = np.array(e)
    ax.plot(CUR, y, color=col, lw=1.9, zorder=z)
    ax.vlines(CUR, y - e, y + e, color=col, lw=1.9, zorder=z)


def hi_axes(x0, y0, x1, y1, xl, yl, yt, ymin=None, face=None):
    ax = axpx(x0, y0, x1, y1)
    style(ax, lsize=18.5, length=6)
    ax.set_xlim(*xl); ax.set_ylim(*yl)
    ax.set_xticks([0, 100, 200, 300]); ax.set_xticks([50, 150, 250], minor=True)
    ax.set_yticks(yt)
    if ymin is not None:
        ax.set_yticks(ymin, minor=True)
    if face:
        ax.patch.set_alpha(1); ax.set_facecolor(face)
    return ax

axH1 = hi_axes(137.5, 1740, 366, 1957, (-9.3, 317), (-0.53, 11.0), [0, 2, 4, 6, 8, 10])
curve(axH1, H1_red, H1_red_e, RED, 2); curve(axH1, H1_gry, H1_gry_e, GRAY, 3)
axH2 = hi_axes(428, 1740, 656, 1957, (-8.6, 317), (-0.53, 11.0), [0, 2, 4, 6, 8, 10])
curve(axH2, H2_red, H2_red_e, RED, 2); curve(axH2, H2_blk, H2_blk_e, BLK, 3); curve(axH2, H2_pur, H2_pur_e, PUR, 4)
axH3 = hi_axes(722, 1740, 947, 1957, (-4.3, 315.8), (-0.53, 11.0), [0, 2, 4, 6, 8, 10])
curve(axH3, H3_red, H3_red_e, RED, 2); curve(axH3, H3_blk, H3_blk_e, BLK, 3)
pline([950, 956, 956, 950], [1766, 1766, 1800, 1800], lw=1.2)

rich(17, 1653, 'H', 24, weight='bold')
for xl in (150, 1142):
    rich(xl, 1661, scn(), 18.5, RED, 'left', NAR)
    rich(xl, 1689, '0.75-1.25 μS', 18.5, GRAY, 'left', NAR)
    rich(xl, 1717, ['Na', ('V', '_'), '1.2'], 18.5, GRAY, 'left', NAR)
for xl in (440, 1432):
    rich(xl, 1661, scn(), 18.5, RED, 'left', NAR)
    rich(xl, 1689, ['100 nS K', ('transient', '_')], 18.5, MAG, 'left', NAR)
    rich(xl, 1717, ['200 nS K', ('transient', '_')], 18.5, PUR, 'left', NAR)
for xl in (731, 1721):
    rich(xl, 1661, scn(), 18.5, RED, 'left', NAR)
    rich(xl, 1689, ['100 nS K', ('transient', '_')], 18.5, 'k', 'left', NAR)
    rich(xl, 1717, ['+ 5 nS K', ('delayed', '_')], 18.5, 'k', 'left', NAR)
vtext(36, 1853, 'Spikes / Epoch', 18.5)
vtext(67, 1853, '(All 300 ms)', 18.5)
rich(547, 2020, 'Injected current (pA)', 20, 'k', 'center', NAR)

# ======================= PANEL I =======================
BEIGE = '#f3ebe1'
axI1 = hi_axes(1128, 1748, 1356, 1958, (-7, 317), (-0.18, 3.51), [0, 1, 2, 3], [0.5, 1.5, 2.5], BEIGE)
curve(axI1, I1_red, I1_red_e, RED, 2); curve(axI1, I1_gry, I1_gry_e, GRAY, 3)
axI2 = hi_axes(1424, 1745, 1650, 1954, (-3, 326), (-0.07, 5.05), [0, 1, 2, 3, 4, 5], [0.5, 1.5, 2.5, 3.5, 4.5], BEIGE)
curve(axI2, I2_red, I2_red_e, RED, 2); curve(axI2, I2_mag, I2_mag_e, MAG, 3); curve(axI2, I2_pur, I2_pur_e, PUR, 4)
axI3 = hi_axes(1722, 1745, 1945, 1954, (-1.5, 325), (-0.07, 5.05), [0, 1, 2, 3, 4, 5], [0.5, 1.5, 2.5, 3.5, 4.5], BEIGE)
curve(axI3, I3_red, I3_red_e, RED, 2); curve(axI3, I3_blk, I3_blk_e, BLK, 3)

rich(986, 1653, 'I', 24, weight='bold')
pline([1346, 1351, 1351, 1346], [1776, 1776, 1808, 1808], lw=1.2)
rich(1360, 1793, '*', 16, 'k', 'center')
pline([1639, 1644, 1644, 1639], [1809, 1809, 1840, 1840], lw=1.2)
vtext(1655, 1823, '*', 16, rot=-90)
pline([1657, 1662, 1662, 1657], [1809, 1809, 1868, 1868], lw=1.2)
vtext(1674, 1838, '**', 16, rot=-90)
pline([1944, 1950, 1950, 1944], [1775, 1775, 1852, 1852], lw=1.2)
vtext(1962, 1815, '**', 16, rot=-90)
vtext(1037, 1850, 'Spikes / Epoch', 18.5)
vtext(1067, 1850, '(First 50 ms)', 18.5)
rich(1542, 2020, 'Injected current (pA)', 20, 'k', 'center', NAR)

fig.savefig('out.png', dpi=DPI, facecolor='white')
